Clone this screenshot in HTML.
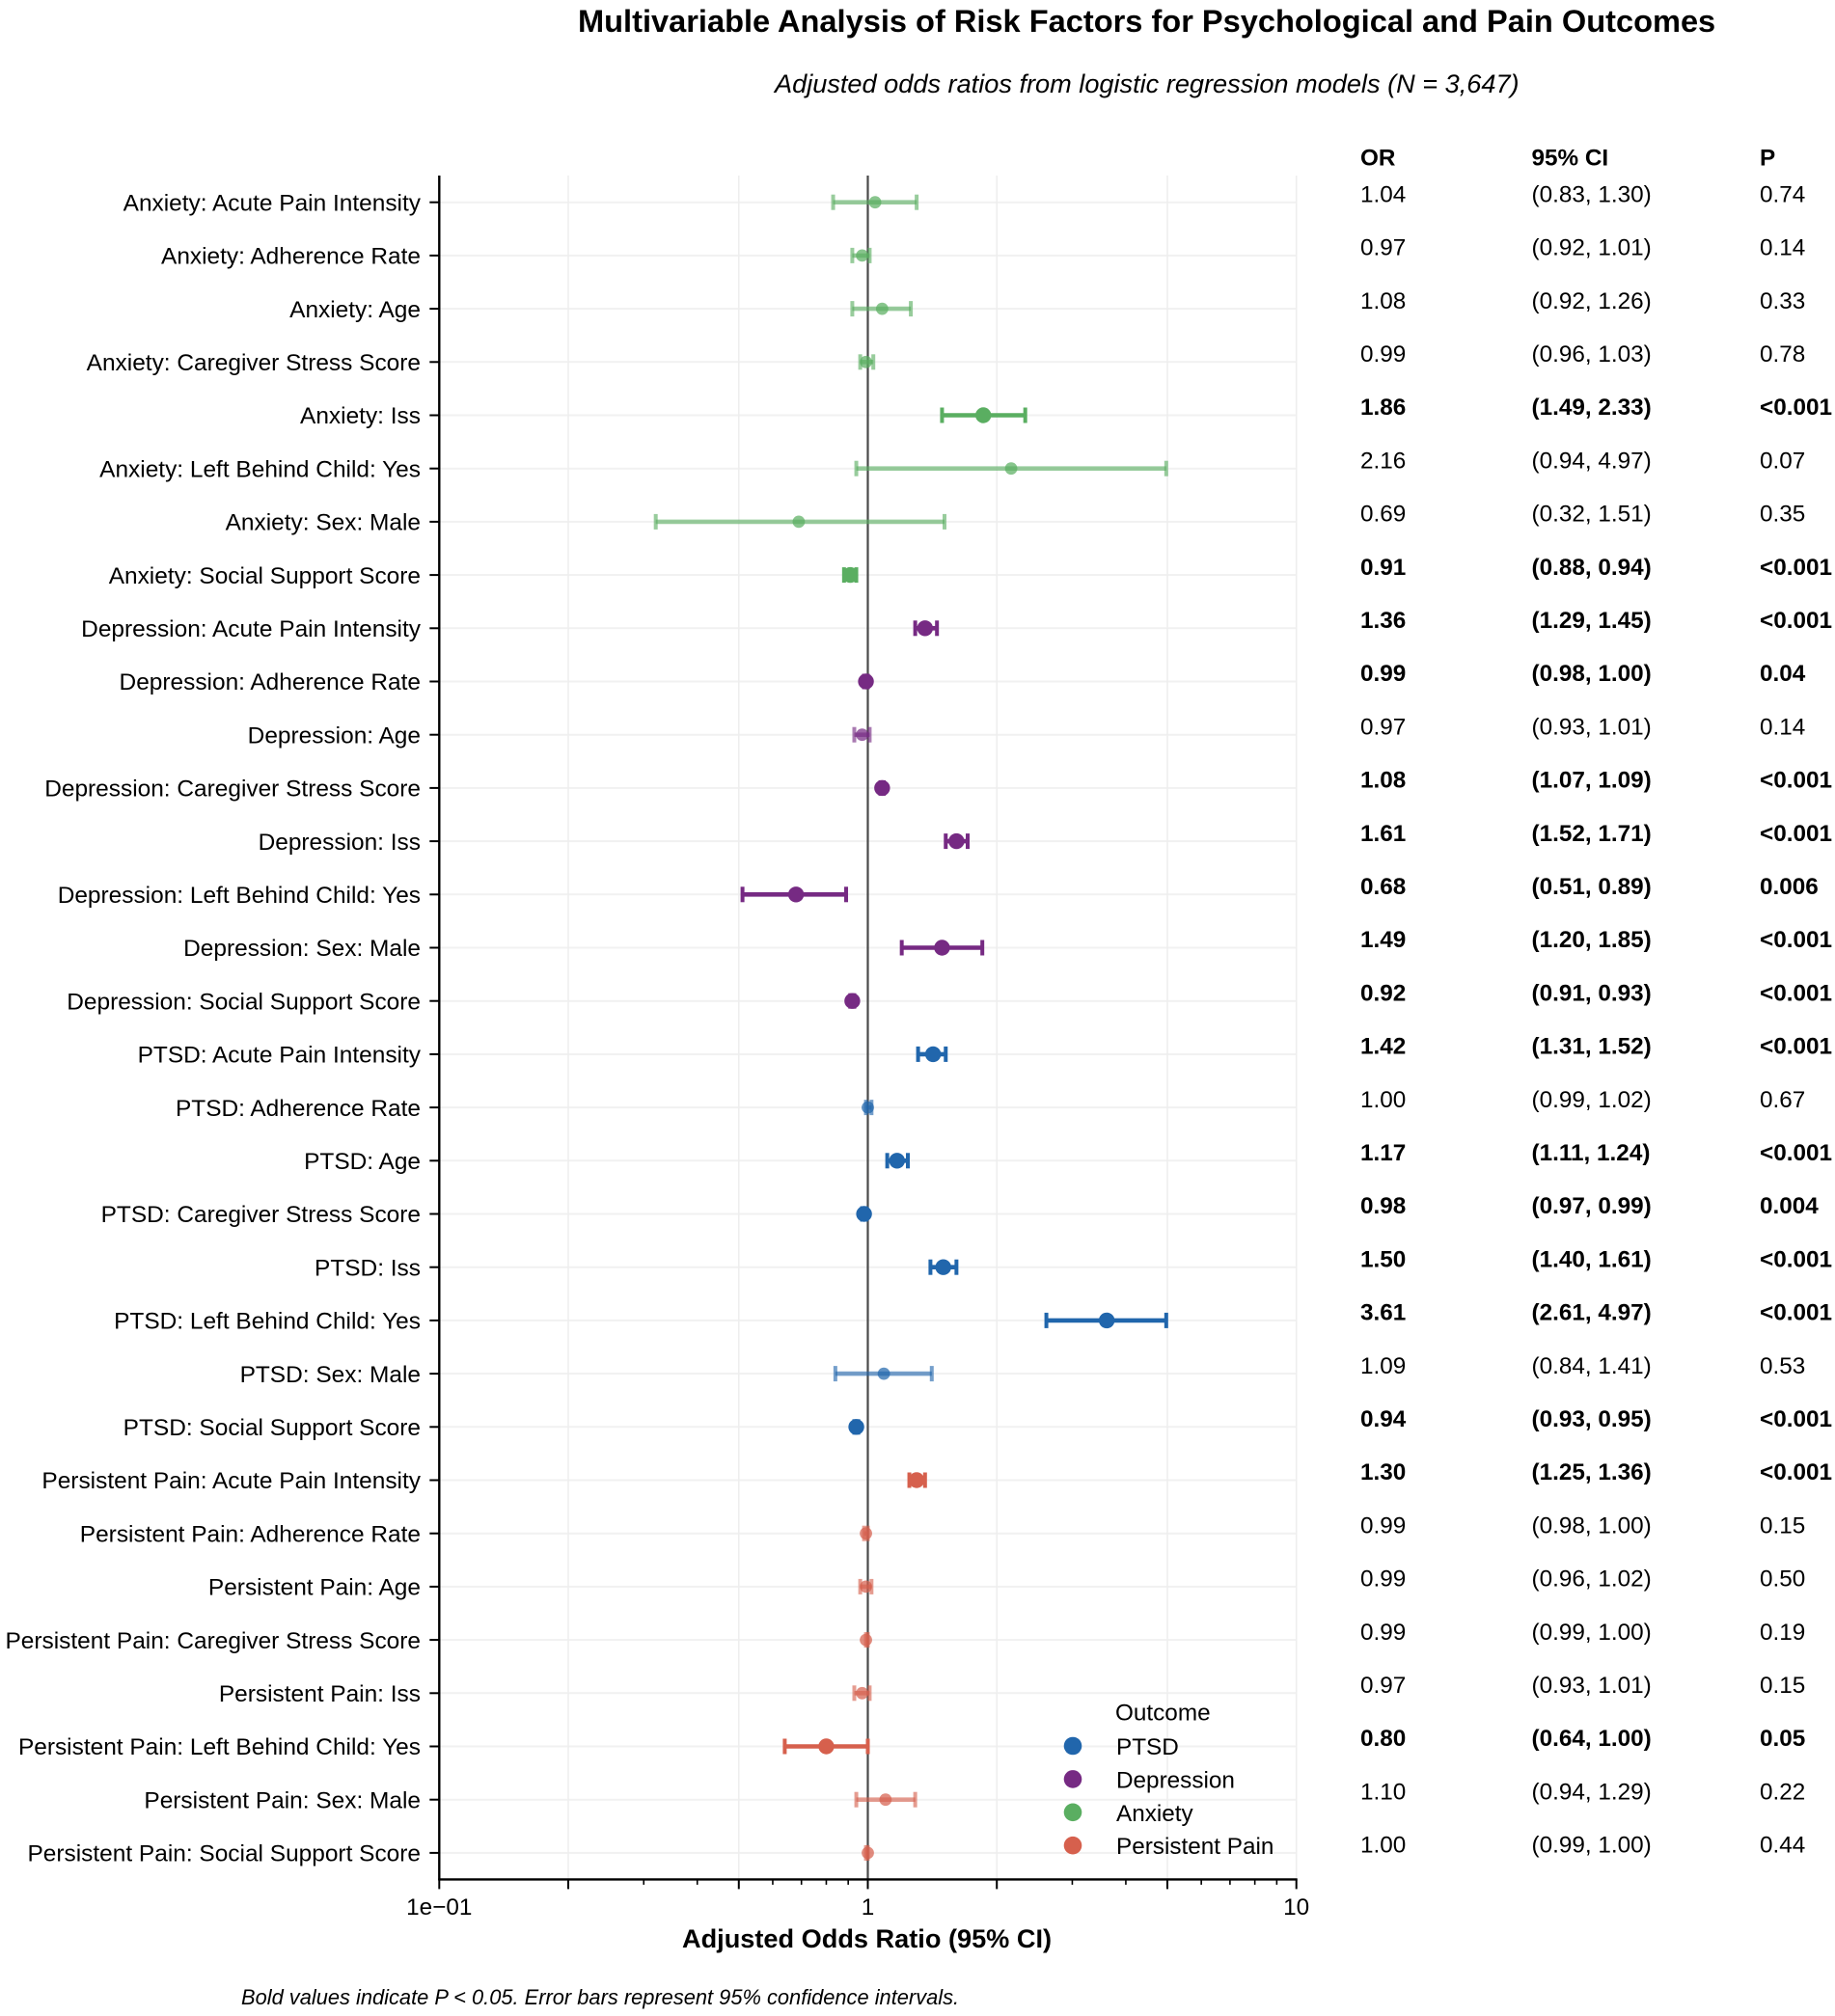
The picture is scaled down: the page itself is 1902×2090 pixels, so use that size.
<!DOCTYPE html>
<html lang="en">
<head>
<meta charset="utf-8">
<title>Multivariable Analysis of Risk Factors for Psychological and Pain Outcomes</title>
<style>
html,body{margin:0;padding:0;background:#fff;}
#chart{display:block;width:1902px;height:2090px;}
text{font-family:"Liberation Sans",Arial,sans-serif;fill:#000;}
</style>
</head>
<body>
<svg id="chart" xmlns="http://www.w3.org/2000/svg" width="1902" height="2090" viewBox="0 0 1902 2090">
  <rect x="0" y="0" width="1902" height="2090" fill="#ffffff"/>
  <text x="599" y="33" font-size="32.6" font-weight="700">Multivariable Analysis of Risk Factors for Psychological and Pain Outcomes</text>
  <text x="803" y="96" font-size="27.15" font-style="italic">Adjusted odds ratios from logistic regression models (N = 3,647)</text>
  <g id="grid"></g>
  <g id="refline"></g>
  <g id="marks"></g>
  <g id="axes"></g>
  <g id="table"></g>
  <g id="legend"></g>
  <text x="707" y="2019" font-size="27.15" font-weight="700">Adjusted Odds Ratio (95% CI)</text>
  <text x="250" y="2078" font-size="21.85" font-style="italic">Bold values indicate P &lt; 0.05. Error bars represent 95% confidence intervals.</text>
</svg>
<script>
const rowLabels = [
  "Anxiety: Acute Pain Intensity","Anxiety: Adherence Rate","Anxiety: Age","Anxiety: Caregiver Stress Score",
  "Anxiety: Iss","Anxiety: Left Behind Child: Yes","Anxiety: Sex: Male","Anxiety: Social Support Score",
  "Depression: Acute Pain Intensity","Depression: Adherence Rate","Depression: Age","Depression: Caregiver Stress Score",
  "Depression: Iss","Depression: Left Behind Child: Yes","Depression: Sex: Male","Depression: Social Support Score",
  "PTSD: Acute Pain Intensity","PTSD: Adherence Rate","PTSD: Age","PTSD: Caregiver Stress Score",
  "PTSD: Iss","PTSD: Left Behind Child: Yes","PTSD: Sex: Male","PTSD: Social Support Score",
  "Persistent Pain: Acute Pain Intensity","Persistent Pain: Adherence Rate","Persistent Pain: Age","Persistent Pain: Caregiver Stress Score",
  "Persistent Pain: Iss","Persistent Pain: Left Behind Child: Yes","Persistent Pain: Sex: Male","Persistent Pain: Social Support Score"
];
const rowOutcomes = [
  "Anxiety","Anxiety","Anxiety","Anxiety","Anxiety","Anxiety","Anxiety","Anxiety",
  "Depression","Depression","Depression","Depression","Depression","Depression","Depression","Depression",
  "PTSD","PTSD","PTSD","PTSD","PTSD","PTSD","PTSD","PTSD",
  "Persistent Pain","Persistent Pain","Persistent Pain","Persistent Pain","Persistent Pain","Persistent Pain","Persistent Pain","Persistent Pain"
];
const oddsRatios = [1.04,0.97,1.08,0.99,1.86,2.16,0.69,0.91, 1.36,0.99,0.97,1.08,1.61,0.68,1.49,0.92, 1.42,1.00,1.17,0.98,1.50,3.61,1.09,0.94, 1.30,0.99,0.99,0.99,0.97,0.80,1.10,1.00];
const ciLower = [0.83,0.92,0.92,0.96,1.49,0.94,0.32,0.88, 1.29,0.98,0.93,1.07,1.52,0.51,1.20,0.91, 1.31,0.99,1.11,0.97,1.40,2.61,0.84,0.93, 1.25,0.98,0.96,0.99,0.93,0.64,0.94,0.99];
const ciUpper = [1.30,1.01,1.26,1.03,2.33,4.97,1.51,0.94, 1.45,1.00,1.01,1.09,1.71,0.89,1.85,0.93, 1.52,1.02,1.24,0.99,1.61,4.97,1.41,0.95, 1.36,1.00,1.02,1.00,1.01,1.00,1.29,1.00];
const pValues = ["0.74","0.14","0.33","0.78","<0.001","0.07","0.35","<0.001", "<0.001","0.04","0.14","<0.001","<0.001","0.006","<0.001","<0.001", "<0.001","0.67","<0.001","0.004","<0.001","<0.001","0.53","<0.001", "<0.001","0.15","0.50","0.19","0.15","0.05","0.22","0.44"];
const significant = [0,0,0,0,1,0,0,1, 1,1,0,1,1,1,1,1, 1,0,1,1,1,1,0,1, 1,0,0,0,0,1,0,0];
const legendOutcomes = ["PTSD","Depression","Anxiety","Persistent Pain"];
const outcomeColors = ["#2166ac","#762a83","#5aae61","#d6604d"];
const majorTicks = [0.1,0.2,0.5,1,2,5,10];
const majorTickLabels = ["1e\u221201","","","1","","","10"];
const minorTicks = [0.3,0.4,0.6,0.7,0.8,0.9,3,4,6,7,8,9];
const tableHeaders = ["OR","95% CI","P"];

const plotLeft = 455.3, plotRight = 1343.7, plotTop = 182, plotBottom = 1948.4;
const logMin = -1, logMax = 1, rowFirst = 209.7, rowStep = 55.2;
function xScale(v){ return plotLeft + (Math.log10(v) - logMin) / (logMax - logMin) * (plotRight - plotLeft); }
function yScale(i){ return rowFirst + i * rowStep; }
const NS = "http://www.w3.org/2000/svg";
function make(parent, tag, props, content){
  const el = document.createElementNS(NS, tag);
  for (const k in props) el.setAttribute(k, props[k]);
  if (content !== undefined) el.textContent = content;
  parent.appendChild(el);
  return el;
}
function slug(s){ return s.toLowerCase().replace(/[^a-z0-9]+/g, "-").replace(/^-|-$/g, ""); }
function colorFor(name){ return outcomeColors[legendOutcomes.indexOf(name)]; }

const gGrid = document.getElementById("grid");
const gRef = document.getElementById("refline");
const gMarks = document.getElementById("marks");
const gAxes = document.getElementById("axes");
const gTable = document.getElementById("table");
const gLegend = document.getElementById("legend");

/* gridlines */
rowLabels.forEach(function(label, i){
  const el = make(gGrid, "line", {x1:plotLeft, x2:plotRight, y1:yScale(i), y2:yScale(i), stroke:"#f1f1f1", "stroke-width":2});
  
  
});
majorTicks.forEach(function(t){
  const x = xScale(t);
  const el = make(gGrid, "line", {x1:x, x2:x, y1:plotTop, y2:plotBottom, stroke:"#eeeeee", "stroke-width":1.5});
  
  
});

/* reference line at OR = 1 */
const ref = make(gRef, "line", {x1:xScale(1), x2:xScale(1), y1:plotTop, y2:plotBottom, stroke:"#4a4a4a", "stroke-width":2.2});



/* forest marks */
rowLabels.forEach(function(label, i){
  const y = yScale(i);
  const color = colorFor(rowOutcomes[i]);
  const sig = significant[i] === 1;
  const barOpacity = sig ? 1 : 0.62;
  const x0 = xScale(ciLower[i]), x1 = xScale(ciUpper[i]), xm = xScale(oddsRatios[i]);
  const group = make(gMarks, "g", {});
  
  
  const bar = make(group, "line", {x1:x0, x2:x1, y1:y, y2:y, stroke:color, "stroke-width":4.6, opacity:barOpacity});
  
  
  const capLow = make(group, "line", {x1:x0, x2:x0, y1:y-8, y2:y+8, stroke:color, "stroke-width":4, opacity:barOpacity});
  
  
  const capHigh = make(group, "line", {x1:x1, x2:x1, y1:y-8, y2:y+8, stroke:color, "stroke-width":4, opacity:barOpacity});
  
  
  const dot = make(group, "circle", {cx:xm, cy:y, r: sig ? 8.2 : 6.4, fill:color, opacity: sig ? 1 : 0.72});
  
  
});

/* axes */
const spineL = make(gAxes, "line", {x1:plotLeft, x2:plotLeft, y1:plotTop, y2:plotBottom+1, stroke:"#000", "stroke-width":2.4});


const spineB = make(gAxes, "line", {x1:plotLeft-1, x2:plotRight+1, y1:plotBottom, y2:plotBottom, stroke:"#000", "stroke-width":2.4});


rowLabels.forEach(function(label, i){
  const y = yScale(i);
  const tick = make(gAxes, "line", {x1:plotLeft-10, x2:plotLeft, y1:y, y2:y, stroke:"#000", "stroke-width":2});
  
  
  const t = make(gAxes, "text", {x:436, y:y+8.7, "font-size":24.45, "text-anchor":"end"}, label);
  
  
});
majorTicks.forEach(function(v, i){
  const x = xScale(v);
  const tick = make(gAxes, "line", {x1:x, x2:x, y1:plotBottom, y2:plotBottom+10, stroke:"#000", "stroke-width":2});
  
  
  if (majorTickLabels[i]) {
    const t = make(gAxes, "text", {x:x, y:1985, "font-size":24.3, "text-anchor":"middle"}, majorTickLabels[i]);
    
    
  }
});
minorTicks.forEach(function(v){
  const x = xScale(v);
  const tick = make(gAxes, "line", {x1:x, x2:x, y1:plotBottom, y2:plotBottom+5.5, stroke:"#000", "stroke-width":1.6});
  
  
});

/* table */
const colX = [1410, 1587.5, 1824];
tableHeaders.forEach(function(h, c){
  const t = make(gTable, "text", {x:colX[c], y:171.7, "font-size":24.3, "font-weight":700}, h);
  
  
});
rowLabels.forEach(function(label, i){
  const y = 200.7 + i * rowStep + 8.7;
  const weight = significant[i] === 1 ? 700 : 400;
  const orText = make(gTable, "text", {x:colX[0], y:y, "font-size":24.3, "font-weight":weight}, oddsRatios[i].toFixed(2));
  
  
  const ciText = make(gTable, "text", {x:colX[1], y:y, "font-size":24.3, "font-weight":weight}, "(" + ciLower[i].toFixed(2) + ", " + ciUpper[i].toFixed(2) + ")");
  
  
  const pText = make(gTable, "text", {x:colX[2], y:y, "font-size":24.3, "font-weight":weight}, pValues[i]);
  
  
});

/* legend */
const legendTitle = make(gLegend, "text", {x:1156, y:1783.3, "font-size":24.3}, "Outcome");


legendOutcomes.forEach(function(name, i){
  const y = 1810 + i * 34.4;
  const dot = make(gLegend, "circle", {cx:1112, cy:y, r:9.3, fill:outcomeColors[i]});
  
  
  const t = make(gLegend, "text", {x:1157, y:y+9, "font-size":24.3}, name);
  
  
});
</script>
</body>
</html>
